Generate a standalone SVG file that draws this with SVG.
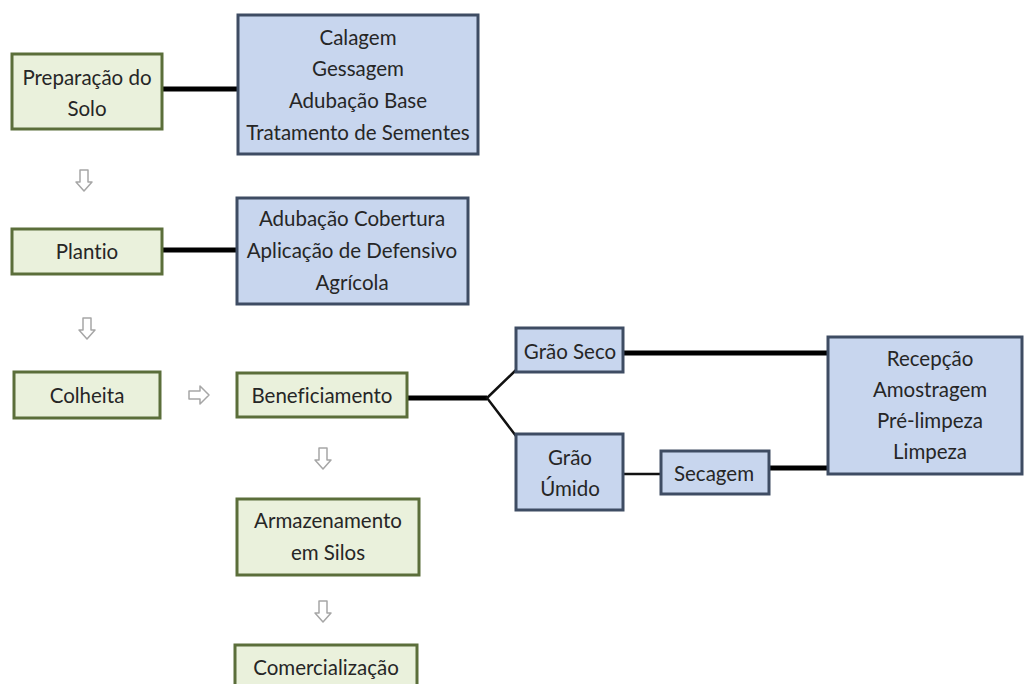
<svg xmlns="http://www.w3.org/2000/svg" width="1027" height="684" viewBox="0 0 1027 684">
<style>
  .g rect{fill:#eaf1dc;stroke:#5b6e3a;stroke-width:3}
  .b rect{fill:#c8d6ee;stroke:#3e4c63;stroke-width:3}
  text{font-family:Lato,"Liberation Sans",sans-serif;font-size:20.5px;fill:#262626;text-anchor:middle;dominant-baseline:central;font-variant-ligatures:none}
  .thick{stroke:#000;stroke-width:5;fill:none}
  .thin{stroke:#111;stroke-width:2.5;fill:none}
  .arr{fill:#fff;stroke:#a6a6a6;stroke-width:1.5;stroke-linejoin:round}
</style>
<rect width="1027" height="684" fill="#fff"/>
<g id="connectors">
  <line class="thick" x1="162" y1="89" x2="238" y2="89"/>
  <line class="thick" x1="162" y1="250" x2="237" y2="250"/>
  <line class="thick" x1="407" y1="398" x2="487" y2="398" stroke-width="6"/>
  <polyline class="thin" points="516,370 487,398 516,436"/>
  <line class="thick" x1="623" y1="353" x2="828" y2="353"/>
  <line class="thin" x1="623" y1="474" x2="661" y2="474"/>
  <line class="thick" x1="769" y1="468" x2="828" y2="468" stroke-width="3.5"/>
</g>
<g id="arrows">
  <path class="arr" d="M80,170 h8 v12 h4 l-8,9 l-8,-9 h4 z"/>
  <path class="arr" d="M83,318 h8 v12 h4 l-8,9 l-8,-9 h4 z"/>
  <path class="arr" d="M319,448 h8 v12 h4 l-8,9 l-8,-9 h4 z"/>
  <path class="arr" d="M319,601 h8 v12 h4 l-8,9 l-8,-9 h4 z"/>
  <path class="arr" d="M189,391 h11 v-5 l9,9 l-9,9 v-5 h-11 z"/>
</g>
<g id="preparacao" class="g">
  <rect x="12" y="54" width="150" height="75"/>
  <text x="87" y="77">Preparação do</text>
  <text x="87" y="108">Solo</text>
</g>
<g id="calagem" class="b">
  <rect x="238" y="15" width="240" height="139"/>
  <text x="358" y="37">Calagem</text>
  <text x="358" y="68">Gessagem</text>
  <text x="358" y="100">Adubação Base</text>
  <text x="358" y="132">Tratamento de Sementes</text>
</g>
<g id="plantio" class="g">
  <rect x="12" y="229" width="150" height="45"/>
  <text x="87" y="251">Plantio</text>
</g>
<g id="cobertura" class="b">
  <rect x="237" y="198" width="231" height="106"/>
  <text x="352" y="218">Adubação Cobertura</text>
  <text x="352" y="250">Aplicação de Defensivo</text>
  <text x="352" y="282">Agrícola</text>
</g>
<g id="colheita" class="g">
  <rect x="14" y="372" width="146" height="46"/>
  <text x="87" y="395">Colheita</text>
</g>
<g id="beneficiamento" class="g">
  <rect x="237" y="373" width="170" height="44"/>
  <text x="322" y="395">Beneficiamento</text>
</g>
<g id="armazenamento" class="g">
  <rect x="237" y="499" width="182" height="76"/>
  <text x="328" y="520">Armazenamento</text>
  <text x="328" y="552">em Silos</text>
</g>
<g id="comercializacao" class="g">
  <rect x="235" y="645" width="182" height="50"/>
  <text x="326" y="667">Comercialização</text>
</g>
<g id="graoseco" class="b">
  <rect x="516" y="328" width="107" height="44"/>
  <text x="570" y="351">Grão Seco</text>
</g>
<g id="graoumido" class="b">
  <rect x="516" y="434" width="107" height="76"/>
  <text x="570" y="457">Grão</text>
  <text x="570" y="488">Úmido</text>
</g>
<g id="secagem" class="b">
  <rect x="661" y="451" width="108" height="43"/>
  <text x="714" y="473">Secagem</text>
</g>
<g id="recepcao" class="b">
  <rect x="828" y="337" width="194" height="137"/>
  <text x="930" y="358">Recepção</text>
  <text x="930" y="389">Amostragem</text>
  <text x="930" y="420">Pré-limpeza</text>
  <text x="930" y="451">Limpeza</text>
</g>
</svg>
